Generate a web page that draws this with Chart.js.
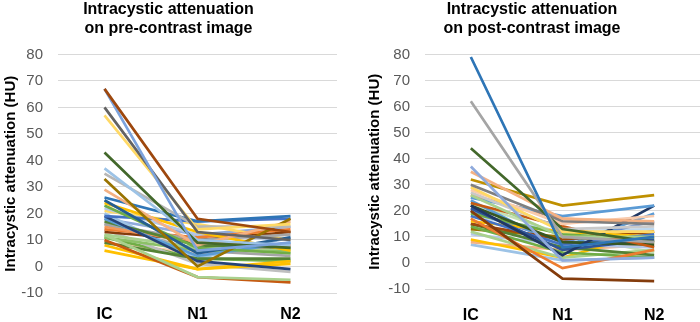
<!DOCTYPE html>
<html>
<head>
<meta charset="utf-8">
<script src="https://cdn.jsdelivr.net/npm/chart.js@4"></script>
<style>
  body { margin: 0; background: #fff; }
  .panel { position: absolute; top: 0; height: 322px; }
  #left { left: 0; width: 337px; }
  #right { left: 350px; width: 350px; }
</style>
</head>
<body>
<div class="panel" id="left"><canvas id="preChart"></canvas></div>
<div class="panel" id="right"><canvas id="postChart"></canvas></div>
<script>
const phases = ['IC', 'N1', 'N2'];
const yTicks = [-10, 0, 10, 20, 30, 40, 50, 60, 70, 80];

// pre-contrast, one entry per cyst
const preIC = [67, 67, 60, 57, 43, 37, 35, 33, 29, 26, 25, 24, 23, 19, 19, 18, 17, 16, 15, 14, 13, 12, 12, 11, 10, 9, 8, 6, 20, 22, 16, 14, 11, 9, 21, 18];
const preN1 = [18, 6, 13, 14, 9, 10, 15, 0, 8, 17, 5, 13, 7, 17, 2, 4, 8, 10, 9, 11, 10, 7, -4, 6, -4, 3, -1, -1, 3, 12, 6, 1, 3, 5, 16, 12];
const preN2 = [13, 9, 10, 16, 7, 8, 15, 18, 17, 19, 11, 6, 5, 18, -1, 9, 7, 12, 8, 14, 13, 5, -5, 6, -6, 3, 1, 2, 11, 10, 4, -2, 2, 8, 10, 15];

// post-contrast, one entry per cyst
const postIC = [79, 62, 44, 37, 35, 32, 30, 29, 28, 27, 26, 25, 23, 22, 22, 21, 20, 19, 18, 17, 16, 15, 15, 14, 13, 12, 11, 9, 8, 7, 24, 20, 26, 18, 23];
const postN1 = [6, 10, 13, 1, 17, 22, 16, 12, 15, 13, 10, 18, 14, 3, 8, 5, -6, 11, 7, -2, 12, 9, 6, 4, 10, 2, 7, 2, 5, 1, 6, 8, 17, 12, 11];
const postN2 = [10, 8, 8, 2, 16, 26, 15, 12, 18, 14, 10, 22, 6, 22, 7, 9, -7, 9, 11, 5, 10, 12, 3, 2, 8, 5, 6, 12, 7, 2, 19, 16, 15, 13, 4];

const preColors = ['#9E480E', '#7CA3DD', '#636363', '#FFD966', '#43682B', '#9DC3E6', '#B7B7B7', '#997300', '#F4B183', '#2E75B6',
  '#255E91', '#FFC000', '#70AD47', '#4472C4', '#264478', '#5B9BD5', '#548235', '#A5A5A5', '#F1975A', '#ED7D31',
  '#843C0C', '#A9D18E', '#A9D18E', '#8CC168', '#C55A11', '#548235', '#FFC000', '#FFC000', '#9DC3E6', '#B4C7E7',
  '#A5A5A5', '#BFBFBF', '#70AD47', '#F8CBAD', '#FFD966', '#8FAADC'];
const postColors = ['#2E75B6', '#A5A5A5', '#43682B', '#8FAADC', '#F4B183', '#BF9000', '#7F7F7F', '#FFD966', '#F8CBAD', '#C9C9C9',
  '#A9D18E', '#5B9BD5', '#C55A11', '#203864', '#385723', '#2F5597', '#843C0C', '#70AD47', '#4472C4', '#ED7D31',
  '#FFC000', '#9E480E', '#548235', '#70AD47', '#997300', '#A9D18E', '#B4C7E7', '#FFC000', '#F4B183', '#9DC3E6',
  '#5B9BD5', '#698ED0', '#F1975A', '#BDD7EE', '#C5E0B4'];

function buildDatasets(ic, n1, n2, colors) {
  return ic.map((v, i) => ({
    data: [v, n1[i], n2[i]],
    borderColor: colors[i],
    backgroundColor: colors[i],
    borderWidth: 2.7,
    pointRadius: 0,
    tension: 0
  }));
}

// cfg: padL = left padding, yW = y axis width, xH = x axis height, xPad = gap under plot
function makeChart(id, titleLines, datasets, cfg) {
  return new Chart(document.getElementById(id), {
    type: 'line',
    data: { labels: phases, datasets: datasets },
    options: {
      responsive: true,
      maintainAspectRatio: false,
      animation: false,
      layout: { padding: { left: cfg.padL, right: 0, top: 0, bottom: 0 } },
      plugins: {
        legend: { display: false },
        tooltip: { enabled: false },
        title: {
          display: true,
          text: titleLines,
          color: '#000',
          font: { family: 'Liberation Sans', size: 16, weight: 'bold', lineHeight: 1.2 },
          padding: { top: 0, bottom: 16 }
        }
      },
      scales: {
        x: {
          offset: true,
          grid: { display: false, drawTicks: false },
          border: { display: false },
          afterFit: s => { s.height = cfg.xH; },
          ticks: { color: '#000', padding: cfg.xPad, font: { family: 'Liberation Sans', size: 16, weight: 'bold' } }
        },
        y: {
          min: -10,
          max: 80,
          afterBuildTicks: s => { s.ticks = yTicks.map(v => ({ value: v })); },
          afterFit: s => { s.width = cfg.yW; },
          grid: { color: '#D9D9D9', lineWidth: 1, drawTicks: false },
          border: { display: false },
          ticks: { color: '#595959', padding: 15, font: { family: 'Liberation Sans', size: 15 } },
          title: {
            display: true,
            text: 'Intracystic attenuation (HU)',
            color: '#000',
            padding: 2,
            font: { family: 'Liberation Sans', size: 15, weight: 'bold' }
          }
        }
      }
    }
  });
}

makeChart('preChart', ['Intracystic attenuation', 'on pre-contrast image'],
  buildDatasets(preIC, preN1, preN2, preColors), { padL: 0, yW: 58, xH: 29, xPad: 12 });
makeChart('postChart', ['Intracystic attenuation', 'on post-contrast image'],
  buildDatasets(postIC, postN1, postN2, postColors), { padL: 14, yW: 61, xH: 33, xPad: 17 });
</script>
</body>
</html>
